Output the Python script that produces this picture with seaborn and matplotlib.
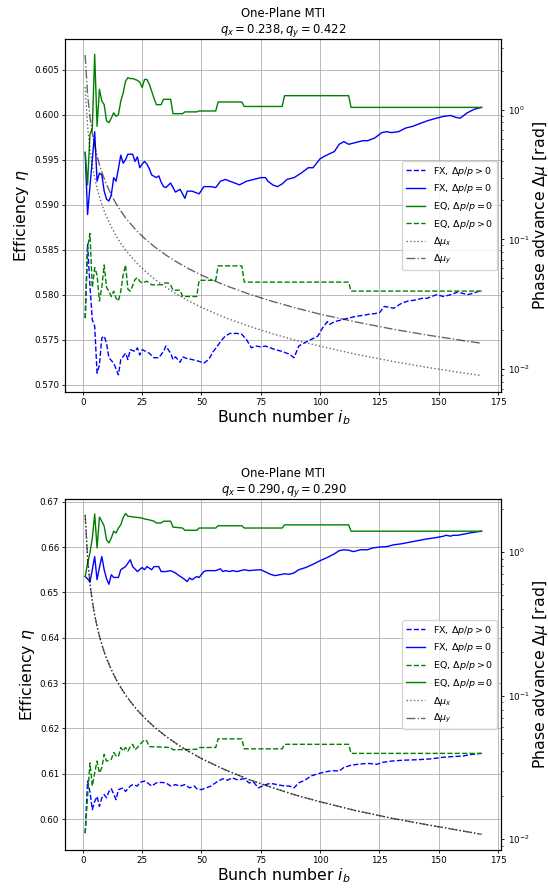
import matplotlib
matplotlib.use("Agg")
import matplotlib.pyplot as plt
import seaborn as sns

# ---------------- data ----------------
# top panel  (q_x = 0.238, q_y = 0.422)
top_fxp_n = [1, 2, 3, 4, 5, 6, 7, 8, 9, 10, 11, 13, 15, 16, 18, 19, 20, 22, 23, 24, 25, 28, 30, 32,
             34, 35, 37, 38, 39, 41, 42, 44, 46, 49, 51, 53, 55, 57, 58, 60, 62, 65, 67, 69, 71, 73,
             75, 77, 79, 81, 84, 87, 89, 91, 93, 96, 99, 101, 103, 104, 106, 109, 112, 115, 118, 120,
             123, 125, 127, 129, 131, 134, 137, 140, 143, 145, 149, 152, 155, 158, 162, 165, 168]
top_fxp = [0.5774, 0.5856, 0.5810, 0.5772, 0.5765, 0.5713, 0.5722, 0.5752, 0.5754, 0.5746, 0.5730,
           0.5724, 0.5711, 0.5728, 0.5735, 0.5728, 0.5739, 0.5737, 0.5741, 0.5733, 0.5739, 0.5735,
           0.5730, 0.5730, 0.5737, 0.5743, 0.5735, 0.5728, 0.5731, 0.5725, 0.5731, 0.5729, 0.5728,
           0.5726, 0.5724, 0.5728, 0.5737, 0.5744, 0.5748, 0.5754, 0.5757, 0.5757, 0.5756, 0.5750,
           0.5741, 0.5743, 0.5742, 0.5743, 0.5741, 0.5739, 0.5737, 0.5734, 0.5730, 0.5743, 0.5746,
           0.5750, 0.5754, 0.5763, 0.5770, 0.5767, 0.5770, 0.5772, 0.5774, 0.5776, 0.5777, 0.5778,
           0.5779, 0.5780, 0.5787, 0.5786, 0.5785, 0.5790, 0.5793, 0.5794, 0.5796, 0.5796, 0.5800,
           0.5798, 0.5800, 0.5803, 0.5800, 0.5802, 0.5805]

top_fx0_n = [1, 2, 3, 4, 5, 6, 7, 8, 9, 10, 11, 12, 13, 14, 15, 16, 17, 18, 19, 20, 21, 22, 23, 24,
             25, 26, 27, 28, 29, 31, 32, 33, 34, 35, 37, 39, 41, 43, 44, 46, 49, 51, 54, 56, 58, 60,
             62, 64, 66, 69, 72, 75, 77, 78, 80, 82, 84, 86, 89, 92, 95, 97, 100, 102, 106, 108, 110,
             112, 115, 118, 120, 123, 126, 128, 130, 133, 136, 139, 143, 145, 149, 152, 155, 157,
             159, 162, 165, 168]
top_fx0 = [0.5958, 0.5889, 0.5920, 0.5950, 0.5981, 0.5926, 0.5935, 0.5933, 0.5915, 0.5906, 0.5904,
           0.5911, 0.5930, 0.5926, 0.5940, 0.5955, 0.5946, 0.5950, 0.5956, 0.5956, 0.5956, 0.5948,
           0.5953, 0.5941, 0.5945, 0.5948, 0.5945, 0.5940, 0.5933, 0.5930, 0.5932, 0.5925, 0.5920,
           0.5919, 0.5924, 0.5914, 0.5917, 0.5907, 0.5915, 0.5915, 0.5912, 0.5920, 0.5920, 0.5919,
           0.5926, 0.5928, 0.5926, 0.5924, 0.5922, 0.5926, 0.5928, 0.5930, 0.5930, 0.5926, 0.5922,
           0.5920, 0.5923, 0.5928, 0.5930, 0.5935, 0.5941, 0.5941, 0.5951, 0.5954, 0.5959, 0.5967,
           0.5970, 0.5967, 0.5969, 0.5971, 0.5971, 0.5974, 0.5980, 0.5981, 0.5980, 0.5981, 0.5985,
           0.5987, 0.5991, 0.5993, 0.5996, 0.5998, 0.5999, 0.5997, 0.5996, 0.6002, 0.6006, 0.6008]

top_eq0_n = [1, 2, 3, 4, 5, 6, 7, 8, 9, 10, 11, 12, 13, 14, 15, 16, 17, 18, 19, 20, 21, 22, 23, 24,
             25, 26, 27, 28, 29, 30, 31, 33, 34, 37, 38, 42, 43, 48, 49, 56, 57, 67, 68, 84, 85, 112,
             113, 168]
top_eq0 = [0.5958, 0.5922, 0.5978, 0.5985, 0.6067, 0.5987, 0.6028, 0.6015, 0.6011, 0.5993, 0.5991,
           0.5996, 0.6002, 0.5998, 0.6000, 0.6015, 0.6024, 0.6037, 0.6041, 0.6040, 0.6040, 0.6039,
           0.6038, 0.6036, 0.6030, 0.6039, 0.6039, 0.6034, 0.6026, 0.6018, 0.6011, 0.6011, 0.6017,
           0.6017, 0.6001, 0.6001, 0.6003, 0.6003, 0.6004, 0.6004, 0.6014, 0.6014, 0.6009, 0.6009,
           0.6021, 0.6021, 0.6008, 0.6008]

top_eqp_n = [1, 2, 3, 4, 5, 6, 7, 8, 9, 10, 11, 12, 13, 14, 15, 16, 17, 18, 19, 20, 21, 22, 23, 24,
             25, 27, 29, 33, 34, 36, 37, 38, 41, 42, 48, 49, 56, 57, 67, 68, 112, 113, 168]
top_eqp = [0.5774, 0.5852, 0.5868, 0.5808, 0.5830, 0.5822, 0.5793, 0.5808, 0.5833, 0.5808, 0.5804,
           0.5798, 0.5804, 0.5796, 0.5793, 0.5804, 0.5822, 0.5833, 0.5806, 0.5804, 0.5810, 0.5817,
           0.5819, 0.5815, 0.5813, 0.5815, 0.5811, 0.5811, 0.5813, 0.5813, 0.5811, 0.5805, 0.5805,
           0.5798, 0.5798, 0.5816, 0.5816, 0.5832, 0.5832, 0.5814, 0.5814, 0.5804, 0.5804]

# bottom panel  (q_x = q_y = 0.290)
bot_fxp_n = [1, 2, 3, 4, 5, 6, 7, 8, 9, 10, 11, 12, 14, 15, 17, 18, 20, 21, 23, 24, 26, 27, 29, 31,
             33, 35, 37, 39, 41, 43, 45, 47, 48, 50, 52, 54, 57, 59, 61, 63, 65, 68, 70, 72, 74, 77,
             79, 82, 85, 87, 89, 91, 94, 96, 99, 102, 105, 108, 110, 113, 116, 120, 124, 126, 130,
             135, 141, 147, 151, 156, 160, 164, 168]
bot_fxp = [0.5969, 0.6084, 0.6060, 0.6021, 0.6039, 0.6050, 0.6028, 0.6047, 0.6054, 0.6047, 0.6061,
           0.6067, 0.6043, 0.6065, 0.6069, 0.6061, 0.6073, 0.6076, 0.6073, 0.6081, 0.6084, 0.6081,
           0.6073, 0.6080, 0.6081, 0.6080, 0.6073, 0.6076, 0.6073, 0.6076, 0.6069, 0.6073, 0.6067,
           0.6065, 0.6069, 0.6073, 0.6084, 0.6089, 0.6086, 0.6091, 0.6087, 0.6089, 0.6080, 0.6081,
           0.6069, 0.6076, 0.6079, 0.6076, 0.6073, 0.6073, 0.6069, 0.6080, 0.6087, 0.6095, 0.6100,
           0.6104, 0.6107, 0.6106, 0.6114, 0.6119, 0.6121, 0.6123, 0.6121, 0.6125, 0.6128, 0.6130,
           0.6131, 0.6133, 0.6136, 0.6138, 0.6139, 0.6143, 0.6145]

bot_fx0_n = [1, 2, 3, 4, 5, 6, 7, 8, 9, 10, 11, 12, 13, 15, 16, 18, 20, 21, 23, 25, 26, 27, 29, 30,
             32, 33, 35, 37, 39, 40, 42, 44, 45, 46, 48, 49, 51, 52, 54, 56, 58, 59, 60, 62, 63, 65,
             68, 70, 72, 75, 77, 79, 81, 83, 85, 87, 89, 91, 94, 97, 100, 103, 106, 108, 110, 112,
             114, 117, 120, 122, 125, 128, 131, 134, 137, 140, 143, 145, 149, 152, 153, 155, 156,
             158, 161, 164, 168]
bot_fx0 = [0.6535, 0.6530, 0.6523, 0.6550, 0.6579, 0.6528, 0.6555, 0.6579, 0.6550, 0.6530, 0.6518,
           0.6539, 0.6533, 0.6533, 0.6550, 0.6557, 0.6572, 0.6557, 0.6546, 0.6555, 0.6550, 0.6557,
           0.6550, 0.6557, 0.6557, 0.6546, 0.6546, 0.6548, 0.6543, 0.6539, 0.6532, 0.6524, 0.6532,
           0.6528, 0.6535, 0.6533, 0.6546, 0.6548, 0.6548, 0.6548, 0.6552, 0.6546, 0.6548, 0.6546,
           0.6548, 0.6546, 0.6550, 0.6548, 0.6549, 0.6550, 0.6545, 0.6540, 0.6537, 0.6539, 0.6541,
           0.6540, 0.6543, 0.6550, 0.6555, 0.6562, 0.6570, 0.6577, 0.6585, 0.6592, 0.6594, 0.6593,
           0.6590, 0.6594, 0.6594, 0.6598, 0.6600, 0.6601, 0.6605, 0.6607, 0.6610, 0.6613, 0.6616,
           0.6618, 0.6621, 0.6624, 0.6626, 0.6624, 0.6626, 0.6626, 0.6629, 0.6632, 0.6635]

bot_eqp_n = [1, 2, 3, 4, 5, 6, 7, 8, 9, 10, 11, 12, 13, 14, 15, 16, 17, 18, 19, 20, 21, 22, 23, 24,
             25, 26, 27, 28, 37, 38, 48, 49, 56, 57, 67, 68, 84, 85, 112, 113, 168]
bot_eqp = [0.5969, 0.6050, 0.6124, 0.6073, 0.6102, 0.6128, 0.6102, 0.6113, 0.6143, 0.6128, 0.6130,
           0.6132, 0.6147, 0.6140, 0.6138, 0.6158, 0.6150, 0.6158, 0.6150, 0.6160, 0.6165, 0.6153,
           0.6158, 0.6164, 0.6170, 0.6175, 0.6172, 0.6160, 0.6158, 0.6153, 0.6154, 0.6158, 0.6158,
           0.6177, 0.6177, 0.6155, 0.6155, 0.6165, 0.6165, 0.6145, 0.6145]

bot_eq0_n = [1, 2, 3, 4, 5, 6, 7, 8, 9, 10, 11, 12, 13, 14, 15, 16, 17, 18, 19, 22, 25, 26, 28, 30,
             31, 33, 34, 37, 38, 42, 43, 48, 49, 56, 57, 67, 68, 84, 85, 112, 113, 168]
bot_eq0 = [0.6535, 0.6565, 0.6587, 0.6620, 0.6673, 0.6598, 0.6666, 0.6657, 0.6646, 0.6616, 0.6609,
           0.6620, 0.6635, 0.6631, 0.6642, 0.6649, 0.6665, 0.6674, 0.6668, 0.6666, 0.6664, 0.6662,
           0.6660, 0.6657, 0.6653, 0.6653, 0.6657, 0.6657, 0.6644, 0.6642, 0.6637, 0.6637, 0.6642,
           0.6642, 0.6647, 0.6647, 0.6642, 0.6642, 0.6649, 0.6649, 0.6635, 0.6635]

# phase advance per bunch (right axis, log)
mu_n = [1, 2, 3, 4, 5, 6, 7, 8, 9, 10, 12, 14, 16, 18, 20, 23, 26, 30, 35, 40, 45, 50, 60, 70, 80,
        90, 100, 115, 130, 145, 160, 168]
top_mu_x = [1.50, 0.75, 0.50, 0.374, 0.299, 0.249, 0.214, 0.187, 0.166, 0.150, 0.125, 0.107,
            0.0934, 0.0831, 0.0748, 0.0650, 0.0575, 0.0498, 0.0427, 0.0374, 0.0332, 0.0299, 0.0249,
            0.0214, 0.0187, 0.0166, 0.0150, 0.0130, 0.0115, 0.0103, 0.00934, 0.0089]
top_mu_y = [2.65, 1.33, 0.884, 0.663, 0.530, 0.442, 0.379, 0.332, 0.295, 0.265, 0.221, 0.189, 0.166,
            0.147, 0.133, 0.115, 0.102, 0.0884, 0.0758, 0.0663, 0.0589, 0.0530, 0.0442, 0.0379,
            0.0332, 0.0295, 0.0265, 0.0231, 0.0204, 0.0183, 0.0166, 0.0158]
bot_mu_x = [1.82, 0.911, 0.607, 0.456, 0.364, 0.304, 0.260, 0.228, 0.202, 0.182, 0.152, 0.130, 0.114,
            0.101, 0.0911, 0.0792, 0.0701, 0.0607, 0.0521, 0.0456, 0.0405, 0.0364, 0.0304, 0.0260,
            0.0228, 0.0202, 0.0182, 0.0158, 0.0140, 0.0126, 0.0114, 0.0108]
bot_mu_y = bot_mu_x

LAB_FXP = r'FX, $\Delta p/p > 0$'
LAB_FX0 = r'FX, $\Delta p/p = 0$'
LAB_EQP = r'EQ, $\Delta p/p > 0$'
LAB_EQ0 = r'EQ, $\Delta p/p = 0$'
LAB_MUX = r'$\Delta\mu_x$'
LAB_MUY = r'$\Delta\mu_y$'

LW = 1.0
TICK_FS = 6.3
LABEL_FS = 11.3
TITLE_FS = 8.4
LEGEND_FS = 6.8


def draw_panel(ax, title, curves, mu_x, mu_y, order, ylim, ylim2):
    ax2 = ax.twinx()
    ax2.set_yscale('log')

    for n, vals, color, ls, lab in curves:
        sns.lineplot(x=n, y=vals, ax=ax, color=color, linestyle=ls, linewidth=LW, label=lab)
    sns.lineplot(x=mu_n, y=mu_x, ax=ax2, color='k', alpha=0.6, linestyle=':', linewidth=LW,
                 label=LAB_MUX)
    sns.lineplot(x=mu_n, y=mu_y, ax=ax2, color='k', alpha=0.6, linestyle='-.', linewidth=LW,
                 label=LAB_MUY)

    for a in (ax, ax2):
        if a.get_legend() is not None:
            a.get_legend().remove()

    ax.set_ylim(*ylim)
    ax2.set_ylim(*ylim2)
    ax.grid(True, color='#b0b0b0', linewidth=0.6)

    ax.set_title(title, fontsize=TITLE_FS, pad=4)
    ax.set_xlabel(r'Bunch number $i_b$', fontsize=LABEL_FS, labelpad=1)
    ax.set_ylabel(r'Efficiency $\eta$', fontsize=LABEL_FS, labelpad=2)
    ax2.set_ylabel(r'Phase advance $\Delta\mu$ [rad]', fontsize=LABEL_FS, labelpad=1)

    for a in (ax, ax2):
        a.tick_params(which='major', labelsize=TICK_FS, length=2.5, width=0.6, pad=2)
        a.tick_params(which='minor', length=1.5, width=0.5)
        for sp in a.spines.values():
            sp.set_linewidth(0.8)

    h1, l1 = ax.get_legend_handles_labels()
    h2, l2 = ax2.get_legend_handles_labels()
    lookup = dict(zip(l1 + l2, h1 + h2))
    ax2.legend([lookup[k] for k in order], order, loc='center right', fontsize=LEGEND_FS,
               handlelength=2.0, borderpad=0.4, labelspacing=0.5)
    return ax2


fig = plt.figure(figsize=(5.48, 8.89), dpi=100)
ax_top = fig.add_axes([0.1193, 0.5591, 0.7956, 0.3971])
ax_bot = fig.add_axes([0.1193, 0.0439, 0.7956, 0.3948])

draw_panel(
    ax_top,
    'One-Plane MTI\n$q_x = 0.238, q_y = 0.422$',
    [(top_fxp_n, top_fxp, 'blue', '--', LAB_FXP),
     (top_fx0_n, top_fx0, 'blue', '-', LAB_FX0),
     (top_eq0_n, top_eq0, 'green', '-', LAB_EQ0),
     (top_eqp_n, top_eqp, 'green', '--', LAB_EQP)],
    top_mu_x, top_mu_y,
    [LAB_FXP, LAB_FX0, LAB_EQ0, LAB_EQP, LAB_MUX, LAB_MUY],
    (0.5692, 0.6084), (0.00665, 3.53),
)

draw_panel(
    ax_bot,
    'One-Plane MTI\n$q_x = 0.290, q_y = 0.290$',
    [(bot_fxp_n, bot_fxp, 'blue', '--', LAB_FXP),
     (bot_fx0_n, bot_fx0, 'blue', '-', LAB_FX0),
     (bot_eqp_n, bot_eqp, 'green', '--', LAB_EQP),
     (bot_eq0_n, bot_eq0, 'green', '-', LAB_EQ0)],
    bot_mu_x, bot_mu_y,
    [LAB_FXP, LAB_FX0, LAB_EQP, LAB_EQ0, LAB_MUX, LAB_MUY],
    (0.5932, 0.6706), (0.0084, 2.35),
)

fig.savefig('out.png', dpi=100)
